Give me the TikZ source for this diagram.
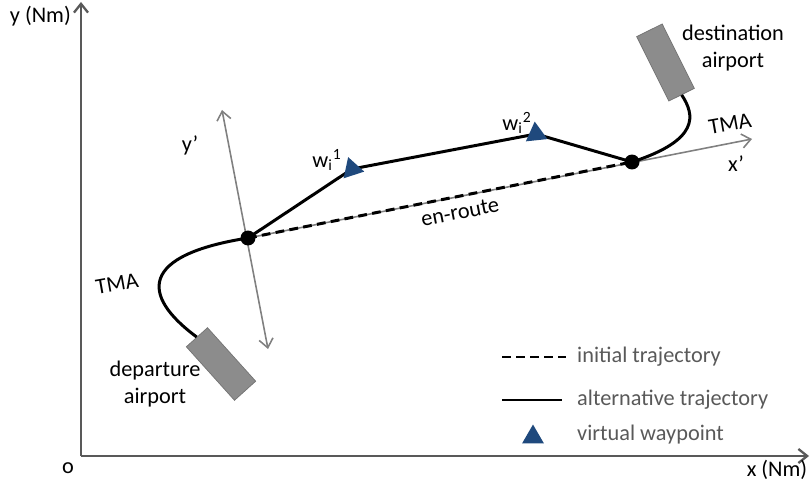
\documentclass[tikz,border=0pt]{standalone}
\usepackage{fontspec}
\setmainfont{Carlito}
\usetikzlibrary{arrows.meta,shapes.geometric,positioning}
\definecolor{wpblue}{RGB}{31,73,125}
\colorlet{axisgray}{black!65}
\colorlet{localgray}{black!50}

\begin{document}
\begin{tikzpicture}[x=0.02cm,y=-0.02cm,font=\fontsize{12.7}{15}\selectfont,
axis/.style={draw=axisgray,line width=1.3pt,-{Straight Barb[length=5pt,width=8pt]}},
local/.style={draw=localgray,line width=0.9pt},
traj/.style={line width=1.7pt},
port/.style={draw=black!55,fill=black!45,minimum width=1.44cm,minimum height=0.57cm,inner sep=0pt},
wp/.style={regular polygon,regular polygon sides=3,fill=wpblue,inner sep=0pt,minimum size=0.5cm},
dot/.style={circle,fill=black,inner sep=0pt,minimum size=0.3cm}]
\useasboundingbox (0,0) rectangle (811,493);
% points of the trajectory
\coordinate (O) at (81,456);
\coordinate (ytop) at (81,2);
\coordinate (xend) at (809,456);
\coordinate (A) at (248,238);
\coordinate (B) at (632,162);
\coordinate (w1) at (352,169);
\coordinate (w2) at (536,134);
\coordinate (xp) at (752,139);
\coordinate (yp1) at (222,110);
\coordinate (yp2) at (268,349);
\node[port,rotate=-48] (dep) at (221,364) {};
\node[port,rotate=-63.5] (dst) at (665.5,62.5) {};
% axes
\draw[axis] (O) -- (ytop);
\draw[axis] (O) -- (xend);
\draw[local,{Straight Barb[length=5pt,width=8pt]}-{Straight Barb[length=5pt,width=8pt]}] (yp1) -- (yp2);
\draw[local,-{Straight Barb[length=5pt,width=8pt]}] (A) -- (xp);
% trajectories
\draw[traj,dash pattern=on 5pt off 3pt] (A) -- (B);
\draw[traj] (A) -- (w1) -- (w2) -- (B);
\draw[traj] (dep.west) .. controls (140,295) and (140,255) .. (A);
\draw[traj] (B) .. controls (700,140) and (695,115) .. (dst.east);
\node[dot] (Adot) at (A) {};
\node[dot] (Bdot) at (B) {};
\node[wp,rotate=18] (w1mark) at (w1) {};
\node[wp,rotate=6] (w2mark) at (w2) {};
% labels
\node (ylbl) [anchor=east] at (77,16) {y (Nm)};
\node (xlbl) at (777,470) {x (Nm)};
\node (olbl) at (68,468) {o};
\node (yplbl) at (190,145) {y’};
\node (xplbl) at (736,164) {x’};
\node (w1lbl) at (327,160) {w\textsubscript{i}\textsuperscript{1}};
\node (w2lbl) at (517,123) {w\textsubscript{i}\textsuperscript{2}};
\node[rotate=11] (route) at (460,212) {en-route};
\node[rotate=10] (tma1) at (117,284) {TMA};
\node[rotate=10] (tma2) at (730,124) {TMA};
\node[align=center] (deplbl) at (155,384) {departure\\airport};
\node[align=center] (dstlbl) at (733,48) {destination\\airport};
% legend
\coordinate (l1a) at (502,357);
\coordinate (l1b) at (566,357);
\coordinate (l2a) at (502,400);
\coordinate (l2b) at (562,400);
\draw[traj,line width=1.3pt,dash pattern=on 5pt off 3pt] (l1a) -- (l1b);
\draw[traj,line width=1.3pt] (l2a) -- (l2b);
\node[wp] (lwp) at (533,437) {};
\node[anchor=west,text=axisgray] (leg1) at (571,357) {initial trajectory};
\node[anchor=west,text=axisgray] (leg2) at (571,400) {alternative trajectory};
\node[anchor=west,text=axisgray] (leg3) at (571,435) {virtual waypoint};
\end{tikzpicture}
\end{document}
